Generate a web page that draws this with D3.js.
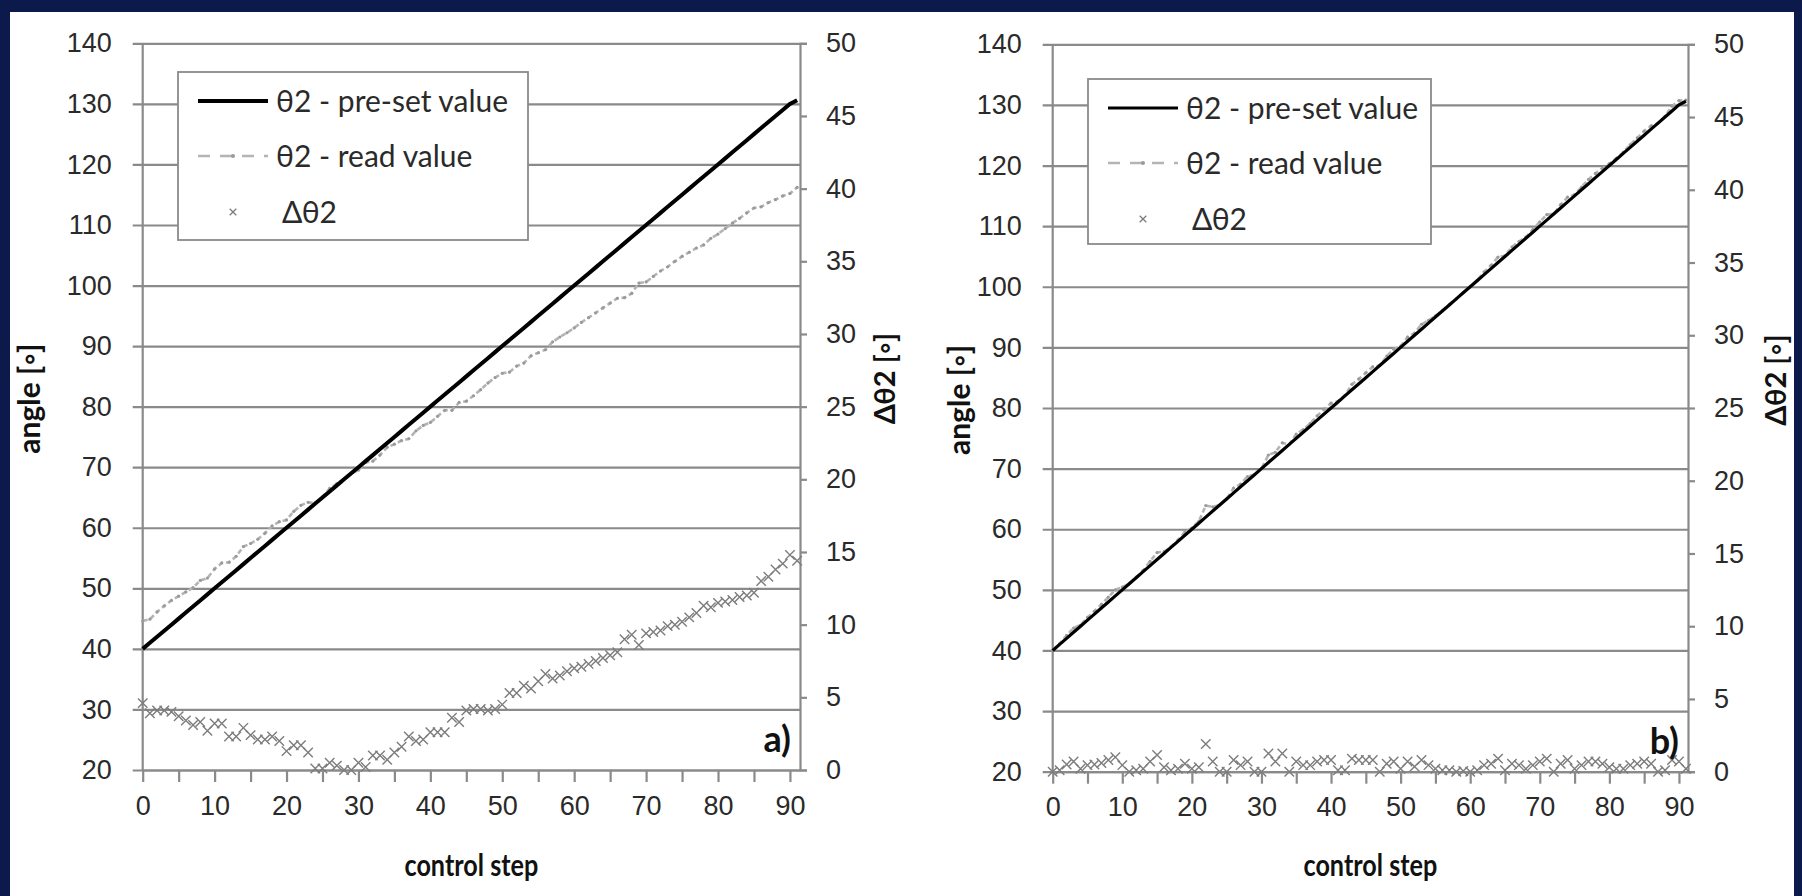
<!DOCTYPE html>
<html>
<head>
<meta charset="utf-8">
<script src="https://cdn.jsdelivr.net/npm/d3@7"></script>
<style>
  body { margin: 0; background: #0c1a4b; }
  svg { display: block; font-family: "Liberation Sans Narrow", Lato, sans-serif; }
</style>
</head>
<body>
<svg id="drawing_region"></svg>
<script>
// control steps 0..91
const steps = [0,1,2,3,4,5,6,7,8,9,10,11,12,13,14,15,16,17,18,19,20,21,22,23,24,25,26,27,28,29,
  30,31,32,33,34,35,36,37,38,39,40,41,42,43,44,45,46,47,48,49,50,51,52,53,54,55,56,57,58,59,
  60,61,62,63,64,65,66,67,68,69,70,71,72,73,74,75,76,77,78,79,80,81,82,83,84,85,86,87,88,89,90,91];

const angleTicks = [20,30,40,50,60,70,80,90,100,110,120,130,140];
const deltaTicks = [0,5,10,15,20,25,30,35,40,45,50];
const stepTicks = [0,10,20,30,40,50,60,70,80,90];
const minorStepTicks = [0,5,10,15,20,25,30,35,40,45,50,55,60,65,70,75,80,85,90];

// a) pre-set / read / delta
const presetA = [40,41,42,43,44,45,46,47,48,49,50,51,52,53,54,55,56,57,58,59,60,61,62,63,64,65,66,67,68,69,
  70,71,72,73,74,75,76,77,78,79,80,81,82,83,84,85,86,87,88,89,90,91,92,93,94,95,96,97,98,99,
  100,101,102,103,104,105,106,107,108,109,110,111,112,113,114,115,116,117,118,119,120,121,122,123,124,125,126,127,128,129,130,130.6];
const readA = [44.6,44.9,46.1,47.1,48.0,48.7,49.4,50.1,51.3,51.7,53.2,54.2,54.3,55.3,56.9,57.4,58.1,59.1,60.3,61.0,
  61.3,62.7,63.7,64.2,64.1,65.1,66.5,67.3,68.0,69.0,69.5,70.8,71.0,72.0,73.3,73.8,74.4,74.7,76.0,76.9,
  77.4,78.4,79.4,79.4,80.7,80.9,81.8,82.8,83.9,84.8,85.5,85.7,86.7,87.2,88.4,88.9,89.4,90.7,91.5,92.2,
  93.0,93.9,94.7,95.5,96.3,97.1,97.9,98.0,98.7,100.4,100.6,101.5,102.4,103.1,104.0,104.8,105.5,106.2,106.7,107.8,
  108.5,109.4,110.3,111.1,112.0,112.8,113.0,113.7,114.2,114.8,115.2,116.2];
const deltaA = [4.6,3.9,4.1,4.1,4.0,3.7,3.4,3.1,3.3,2.7,3.2,3.2,2.3,2.3,2.9,2.4,2.1,2.1,2.3,2.0,
  1.3,1.7,1.7,1.2,0.1,0.1,0.5,0.3,0.0,0.0,0.5,0.2,1.0,1.0,0.7,1.2,1.6,2.3,2.0,2.1,
  2.6,2.6,2.6,3.6,3.3,4.1,4.2,4.2,4.1,4.2,4.5,5.3,5.3,5.8,5.6,6.1,6.6,6.3,6.5,6.8,
  7.0,7.1,7.3,7.5,7.7,7.9,8.1,9.0,9.3,8.6,9.4,9.5,9.6,9.9,10.0,10.2,10.5,10.8,11.3,11.2,
  11.5,11.6,11.7,11.9,12.0,12.2,13.0,13.3,13.8,14.2,14.8,14.4];

// b) pre-set / read / delta
const presetB = presetA.slice();
const readB = [40.0,41.1,42.5,43.7,44.2,45.45,46.5,47.6,48.8,50.0,50.45,51.0,52.1,53.2,54.7,56.15,56.3,57.1,58.2,59.55,
  60.2,61.3,63.9,63.7,64.0,65.0,66.8,67.45,68.7,69.0,70.0,72.25,72.7,74.25,74.0,75.7,76.45,77.45,78.7,79.8,
  80.8,81.1,82.1,83.9,84.8,85.8,86.8,87.0,88.55,89.7,90.2,91.7,92.35,93.8,94.45,95.2,96.1,97.1,98.0,99.05,
  100.0,101.1,102.45,103.55,104.9,105.1,106.55,107.45,108.2,109.45,110.7,111.9,112.0,113.55,114.8,115.2,116.45,117.7,118.7,119.55,
  120.3,121.2,122.2,123.45,124.55,125.7,126.55,127.0,128.1,129.8,130.7,130.8];
const deltaB = [0.0,0.1,0.5,0.7,0.2,0.45,0.5,0.6,0.8,1.0,0.45,0.0,0.1,0.2,0.7,1.15,0.3,0.1,0.2,0.55,
  0.2,0.3,1.9,0.7,0.0,0.0,0.8,0.45,0.7,0.0,0.0,1.25,0.7,1.25,0.0,0.7,0.45,0.45,0.7,0.8,
  0.8,0.1,0.1,0.9,0.8,0.8,0.8,0.0,0.55,0.7,0.2,0.7,0.35,0.8,0.45,0.2,0.1,0.1,0.0,0.05,
  0.0,0.1,0.45,0.55,0.9,0.1,0.55,0.45,0.2,0.45,0.7,0.9,0.0,0.55,0.8,0.2,0.45,0.7,0.7,0.55,
  0.3,0.2,0.2,0.45,0.55,0.7,0.55,0.0,0.1,0.8,0.7,0.2];

const legendLabels = ["θ2 - pre-set value", "θ2 - read value", "Δθ2"];

class DualAxisChart {
    constructor( config, data ) {
        this.config = config;
        this.data = data;
        this.init();
    }
    init(){
        let self = this;
        self.svg = d3.select('#drawing_region');
        self.chart = self.svg.append('g');

        self.xscale = d3.scaleLinear()
            .domain([0, self.config.xmax])
            .range([self.config.left, self.config.right]);
        self.yscale = d3.scaleLinear()
            .domain([20, 140])
            .range([self.config.bottom, self.config.top]);
        self.y2scale = d3.scaleLinear()
            .domain([0, 50])
            .range([self.config.bottom, self.config.top]);
    }
    render(){
        let self = this;
        const c = self.config;
        const grid = '#8a8a8a';
        const ink = '#2a2a2a';
        const fs = 27;

        // horizontal grid lines (with outside tick on the left)
        self.chart.append('g')
            .attr('transform', `translate(${c.left},0)`)
            .call(d3.axisLeft(self.yscale).tickValues(angleTicks).tickSize(-(c.right - c.left)).tickSizeOuter(0).tickPadding(31))
            .call(g => g.select('.domain').remove())
            .call(g => g.selectAll('.tick line').attr('x1', -10).attr('stroke', grid).attr('stroke-width', 2.2))
            .call(g => g.selectAll('.tick text').attr('font-size', fs).attr('fill', ink).attr('font-family', null));

        // left axis line
        self.chart.append('line')
            .attr('x1', c.left).attr('x2', c.left)
            .attr('y1', c.top).attr('y2', c.bottom)
            .attr('stroke', grid).attr('stroke-width', 2.2);

        // right axis
        self.chart.append('g')
            .attr('transform', `translate(${c.right},0)`)
            .call(d3.axisRight(self.y2scale).tickValues(deltaTicks).tickSize(7).tickPadding(19))
            .call(g => g.select('.domain').attr('stroke', grid).attr('stroke-width', 2.2))
            .call(g => g.selectAll('.tick line').attr('stroke', grid).attr('stroke-width', 2.2))
            .call(g => g.selectAll('.tick text').attr('font-size', fs).attr('fill', ink).attr('font-family', null));

        // x axis ticks
        self.chart.append('g')
            .attr('transform', `translate(0,${c.bottom})`)
            .call(d3.axisBottom(self.xscale).tickValues(minorStepTicks).tickSize(12).tickSizeOuter(0)
                .tickFormat(d => stepTicks.includes(d) ? d : ''))
            .call(g => g.select('.domain').attr('stroke', grid).attr('stroke-width', 2.2))
            .call(g => g.selectAll('.tick line').attr('stroke', grid).attr('stroke-width', 2.2))
            .call(g => g.selectAll('.tick text').attr('font-size', fs).attr('fill', ink)
                .attr('font-family', null).attr('dy', '1.1em'));

        // read value (dashed gray)
        const line = d3.line()
            .x((d, i) => self.xscale(steps[i]))
            .y(d => self.yscale(d));

        self.chart.append('path')
            .datum(self.data.read)
            .attr('d', line)
            .attr('fill', 'none')
            .attr('stroke', '#b4b4b4')
            .attr('stroke-width', 2.6)
            .attr('stroke-dasharray', '5,3');

        self.chart.append('g')
            .selectAll('circle')
            .data(self.data.read)
            .join('circle')
            .attr('cx', (d, i) => self.xscale(steps[i]))
            .attr('cy', d => self.yscale(d))
            .attr('r', 1.6)
            .attr('fill', '#9a9a9a');

        // pre-set value (black)
        self.chart.append('path')
            .datum(self.data.preset)
            .attr('d', line)
            .attr('fill', 'none')
            .attr('stroke', '#000')
            .attr('stroke-width', c.presetWidth);

        // delta markers (right axis)
        const cross = d3.symbol(d3.symbolTimes, 60);
        self.chart.append('g')
            .selectAll('path')
            .data(self.data.delta)
            .join('path')
            .attr('transform', (d, i) => `translate(${self.xscale(steps[i])},${self.y2scale(d)})`)
            .attr('d', cross)
            .attr('fill', 'none')
            .attr('stroke', '#7c7c7c')
            .attr('stroke-width', 1.4);

        // axis titles
        self.chart.append('text')
            .attr('transform', `translate(${c.leftTitleX},${(c.top + c.bottom) / 2 - 8}) rotate(-90)`)
            .attr('text-anchor', 'middle')
            .attr('font-size', 30).attr('font-weight', 'bold').attr('fill', '#111')
            .text('angle [◦]');
        self.chart.append('text')
            .attr('transform', `translate(${c.rightTitleX},${(c.top + c.bottom) / 2 - 28}) rotate(-90)`)
            .attr('text-anchor', 'middle')
            .attr('font-size', 29).attr('font-weight', 'bold').attr('fill', '#111')
            .text('Δθ2 [◦]');
        self.chart.append('text')
            .attr('transform', `translate(${(c.left + c.right) / 2},876) scale(0.84,1)`)
            .attr('text-anchor', 'middle')
            .attr('font-size', 30).attr('font-weight', 'bold').attr('fill', '#111')
            .text('control step');

        // panel label
        self.chart.append('text')
            .attr('x', c.right - 9)
            .attr('y', c.bottom - 18)
            .attr('text-anchor', 'end')
            .attr('font-size', 36).attr('font-weight', 'bold').attr('fill', '#111')
            .text(c.panel);

        // legend
        const lg = self.chart.append('g')
            .attr('transform', `translate(${c.legend.x},${c.legend.y})`);
        lg.append('rect')
            .attr('width', c.legend.w).attr('height', c.legend.h)
            .attr('fill', '#fff')
            .attr('stroke', '#8a8a8a').attr('stroke-width', 1.8);

        const rows = [29, 84, 140];
        lg.append('line')
            .attr('x1', 20).attr('x2', 90).attr('y1', rows[0]).attr('y2', rows[0])
            .attr('stroke', '#000').attr('stroke-width', c.presetWidth);
        lg.append('line')
            .attr('x1', 20).attr('x2', 90).attr('y1', rows[1]).attr('y2', rows[1])
            .attr('stroke', '#b4b4b4').attr('stroke-width', 2.6).attr('stroke-dasharray', '12,10');
        lg.append('circle')
            .attr('cx', 55).attr('cy', rows[1]).attr('r', 2).attr('fill', '#9a9a9a');
        lg.append('path')
            .attr('transform', `translate(55,${rows[2]})`)
            .attr('d', d3.symbol(d3.symbolTimes, 30))
            .attr('fill', 'none').attr('stroke', '#7c7c7c').attr('stroke-width', 1.3);

        lg.selectAll('text.lab')
            .data(legendLabels)
            .join('text')
            .attr('class', 'lab')
            .attr('x', (d, i) => i === 2 ? 104 : 98)
            .attr('y', (d, i) => rows[i])
            .attr('dy', '0.35em')
            .attr('font-size', 30)
            .attr('fill', ink)
            .text(d => d);
    }
}

d3.select('#drawing_region').attr('width', 1802).attr('height', 896);
d3.select('#drawing_region').append('rect')
    .attr('x', 10).attr('y', 12).attr('width', 1784).attr('height', 884)
    .attr('fill', '#fff');

const chartA = new DualAxisChart({
    left: 142.7, right: 800, top: 43.3, bottom: 770, xmax: 91.4,
    leftTitleX: 40, rightTitleX: 895, panel: 'a)', presetWidth: 4,
    legend: {x: 178, y: 72, w: 350, h: 168}
}, {preset: presetA, read: readA, delta: deltaA});
chartA.render();

const chartB = new DualAxisChart({
    left: 1052.7, right: 1688, top: 44.3, bottom: 771.7, xmax: 91.3,
    leftTitleX: 970, rightTitleX: 1786, panel: 'b)', presetWidth: 3.2,
    legend: {x: 1088, y: 79, w: 343, h: 165}
}, {preset: presetB, read: readB, delta: deltaB});
chartB.render();
</script>
</body>
</html>
